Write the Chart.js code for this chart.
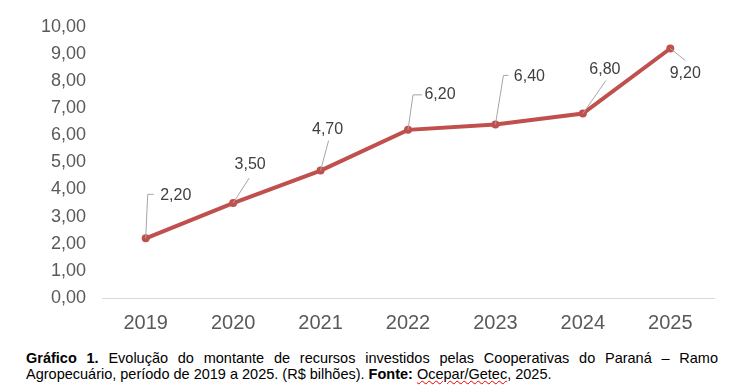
<!DOCTYPE html>
<html lang="pt-BR">
<head>
<meta charset="utf-8">
<script src="https://cdn.jsdelivr.net/npm/chart.js@4"></script>
<style>
  html, body { margin: 0; padding: 0; background: #fff; }
  body { width: 732px; height: 388px; overflow: hidden; font-family: "Liberation Sans", Arial, sans-serif; }
  #wrap { position: relative; width: 732px; height: 340px; }
  #caption {
    position: absolute; left: 26px; top: 350px; width: 692px;
    font-size: 14.5px; line-height: 16px; color: #000; text-align: justify;
  }
  #caption .spell { text-decoration: underline wavy #e00; text-decoration-thickness: 1px; }
</style>
</head>
<body>
<div id="wrap"><canvas id="investChart" width="732" height="340"></canvas></div>
<div id="caption"><b>Gráfico 1.</b> Evolução do montante de recursos investidos pelas Cooperativas do Paraná – Ramo Agropecuário, período de 2019 a 2025. (R$ bilhões). <b>Fonte:</b> <span class="spell">Ocepar/Getec</span>, 2025.</div>

<script>
const years = ['2019', '2020', '2021', '2022', '2023', '2024', '2025'];
const investido = [2.2, 3.5, 4.7, 6.2, 6.4, 6.8, 9.2];

// where each value label sits relative to its point, and how the leader line runs
const labelLayout = [
  { dx: 30, dy: -43, leader: [[2, -44], [8, -44]] },
  { dx: 17, dy: -38, leader: [[16, -25]] },
  { dx: 7, dy: -41, leader: [[8, -30]] },
  { dx: 32, dy: -35, leader: [[5, -35], [14, -35]] },
  { dx: 34, dy: -48, leader: [[8, -49], [13, -49]] },
  { dx: 22, dy: -44, leader: [[23, -33]] },
  { dx: 15, dy: 25, leader: [[15, 12]] }
];

const fmt = v => Number(v).toFixed(2).replace('.', ',');

const leaderLabels = {
  id: 'leaderLabels',
  afterDatasetsDraw(chart) {
    const ctx = chart.ctx;
    const meta = chart.getDatasetMeta(0);
    ctx.save();
    meta.data.forEach((pt, i) => {
      const lay = labelLayout[i];
      ctx.strokeStyle = '#a6a6a6';
      ctx.lineWidth = 1;
      ctx.beginPath();
      ctx.moveTo(pt.x, pt.y);
      lay.leader.forEach(([lx, ly]) => ctx.lineTo(pt.x + lx, pt.y + ly));
      ctx.stroke();
      ctx.fillStyle = '#404040';
      ctx.font = '16px "Liberation Sans", Arial, sans-serif';
      ctx.textAlign = 'center';
      ctx.textBaseline = 'middle';
      ctx.fillText(fmt(investido[i]), pt.x + lay.dx, pt.y + lay.dy);
    });
    ctx.restore();
  }
};

new Chart(document.getElementById('investChart'), {
  type: 'line',
  data: {
    labels: years,
    datasets: [{
      data: investido,
      borderColor: '#c0504d',
      backgroundColor: '#c0504d',
      borderWidth: 4,
      pointRadius: 4,
      pointBorderWidth: 0,
      tension: 0
    }]
  },
  options: {
    responsive: false,
    animation: false,
    layout: { padding: { top: 24, right: 18, bottom: 0, left: 0 } },
    plugins: {
      legend: { display: false },
      tooltip: { enabled: false }
    },
    scales: {
      x: {
        offset: true,
        afterFit: s => { s.height = 42; },
        grid: { display: false, drawTicks: false, offset: true },
        border: { display: true, color: '#d9d9d9', width: 1 },
        ticks: {
          padding: 13,
          color: '#595959',
          font: { family: '"Liberation Sans", Arial, sans-serif', size: 20 }
        }
      },
      y: {
        min: 0,
        max: 10,
        afterFit: s => { s.width = 102; },
        grid: { display: false, drawTicks: false },
        border: { display: false },
        ticks: {
          stepSize: 1,
          padding: 16,
          color: '#595959',
          font: { family: '"Liberation Sans", Arial, sans-serif', size: 18 },
          callback: v => fmt(v)
        }
      }
    }
  },
  plugins: [leaderLabels]
});
</script>
</body>
</html>
